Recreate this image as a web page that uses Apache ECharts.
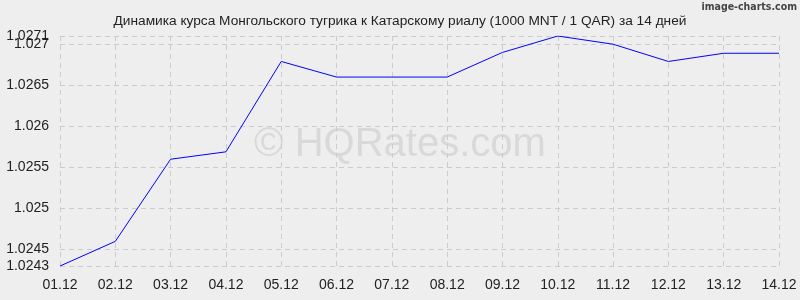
<!DOCTYPE html>
<html><head><meta charset="utf-8">
<script src="https://cdn.jsdelivr.net/npm/echarts@6/dist/echarts.min.js"></script>
<style>html,body{margin:0;padding:0;background:#eeeeee;}#c{width:800px;height:300px;}</style>
</head><body><div id="c"></div>
<script>
const titleText = 'Динамика курса Монгольского тугрика к Катарскому риалу (1000 MNT / 1 QAR) за 14 дней';
const categories = ['01.12','02.12','03.12','04.12','05.12','06.12','07.12','08.12','09.12','10.12','11.12','12.12','13.12','14.12'];
const values = [1.0243, 1.02460, 1.02560, 1.02569, 1.02679, 1.02660, 1.02660, 1.02660, 1.02690, 1.0271, 1.02700, 1.02679, 1.02689, 1.02689];
const yTicks = [1.0243, 1.0245, 1.025, 1.0255, 1.026, 1.0265, 1.027, 1.0271];
const yTicksExtra = [1.027];
const yMin = 1.0243, yMax = 1.0271;

const fmt = v => String(parseFloat(v.toFixed(4)));
const labelStyle = {fontFamily:'Liberation Sans, Arial, sans-serif', fontSize: 14, color:'#222', margin: 11, formatter: fmt,
  showMaxLabel: true, showMinLabel: true, hideOverlap: false};

const chart = echarts.init(document.getElementById('c'), null, {renderer:'canvas'});
chart.setOption({
  backgroundColor: '#eeeeee',
  animation: false,
  title: {text: titleText, left: 'center', top: 9,
    textStyle: {fontFamily: 'Liberation Sans, Arial, sans-serif', fontSize: 13.7, fontWeight: 'normal', color: '#222'}},
  graphic: [
    {type:'text', left: 'center', top: 125, style:{text:'© HQRates.com', fontFamily:'Liberation Sans, Arial, sans-serif', fontSize: 40, fill:'#d9d9d9'}},
    {type:'text', right: 3, top: 2, style:{text:'image-charts.com', fontFamily:'DejaVu Sans Condensed, sans-serif', fontWeight:'bold', fontSize: 10.5, fill:'#444'}}
  ],
  grid: {left: 60, right: 21, top: 36, bottom: 34},
  xAxis: {type:'category', data: categories, boundaryGap: false,
    axisLine:{show:false}, axisTick:{show:false},
    axisLabel:{fontFamily:'Liberation Sans, Arial, sans-serif', fontSize: 14, color:'#222', margin: 12, interval: 0, showMaxLabel: true, hideOverlap: false},
    splitLine:{show:true, lineStyle:{type:[5,4], color:'#cccccc', width:1}}},
  yAxis: [
    {type:'value', min: yMin, max: yMax, position:'left',
      axisLine:{show:false},
      axisTick:{show:false, customValues: yTicks},
      axisLabel: Object.assign({customValues: yTicks.filter(v => yTicksExtra.indexOf(v) < 0)}, labelStyle),
      splitLine:{show:true, lineStyle:{type:[5,4], color:'#cccccc', width:1}}},
    {type:'value', min: yMin, max: yMax, position:'left', offset: 0,
      axisLine:{show:false},
      axisTick:{show:false, customValues: yTicksExtra},
      axisLabel: Object.assign({customValues: yTicksExtra}, labelStyle),
      splitLine:{show:false}}
  ],
  series: [{type:'line', yAxisIndex: 0, data: values, symbol:'none', lineStyle:{color:'#0000ff', width:1}}]
});
</script></body></html>
